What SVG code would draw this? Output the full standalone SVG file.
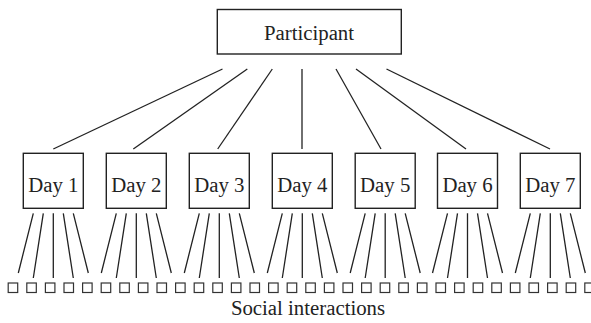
<svg xmlns="http://www.w3.org/2000/svg" width="591" height="323" viewBox="0 0 591 323">
<style>
.box{fill:#fff;stroke:#222;stroke-width:1.4}
.sq{fill:#fff;stroke:#333;stroke-width:1.2}
.ln{stroke:#222;stroke-width:1.3;fill:none}
text{font-family:"Liberation Serif","Times New Roman",serif;font-size:20.8px;fill:#222;text-anchor:middle}
</style>
<rect width="591" height="323" fill="#fff"/>
<g id="connectors">
<line class="ln" x1="222.5" y1="69" x2="53.3" y2="149"/>
<line class="ln" x1="247.3" y1="69" x2="133.3" y2="149"/>
<line class="ln" x1="272.3" y1="69" x2="217.7" y2="149"/>
<line class="ln" x1="302" y1="69" x2="302" y2="149"/>
<line class="ln" x1="336" y1="69" x2="381" y2="149"/>
<line class="ln" x1="356" y1="69" x2="466" y2="149"/>
<line class="ln" x1="386.5" y1="69" x2="550" y2="149"/>
<g id="fan1" transform="translate(53.3,0)">
<path class="ln" d="M-20,213.3L-35,273M-10,213.3L-20,278M0,213.3L0,278M10,213.3L20,278M20,213.3L35,273"/>
</g>
<g id="fan2" transform="translate(136.3,0)">
<path class="ln" d="M-20,213.3L-35,273M-10,213.3L-20,278M0,213.3L0,278M10,213.3L20,278M20,213.3L35,273"/>
</g>
<g id="fan3" transform="translate(219.3,0)">
<path class="ln" d="M-20,213.3L-35,273M-10,213.3L-20,278M0,213.3L0,278M10,213.3L20,278M20,213.3L35,273"/>
</g>
<g id="fan4" transform="translate(302.3,0)">
<path class="ln" d="M-20,213.3L-35,273M-10,213.3L-20,278M0,213.3L0,278M10,213.3L20,278M20,213.3L35,273"/>
</g>
<g id="fan5" transform="translate(385.2,0)">
<path class="ln" d="M-20,213.3L-35,273M-10,213.3L-20,278M0,213.3L0,278M10,213.3L20,278M20,213.3L35,273"/>
</g>
<g id="fan6" transform="translate(467.5,0)">
<path class="ln" d="M-20,213.3L-35,273M-10,213.3L-20,278M0,213.3L0,278M10,213.3L20,278M20,213.3L35,273"/>
</g>
<g id="fan7" transform="translate(550.3,0)">
<path class="ln" d="M-20,213.3L-35,273M-10,213.3L-20,278M0,213.3L0,278M10,213.3L20,278M20,213.3L35,273"/>
</g>
</g>
<g id="participant">
<rect class="box" x="217.3" y="9.5" width="184" height="44.5"/>
<text x="309" y="40">Participant</text>
</g>
<g id="day1"><rect class="box" x="23.3" y="153.3" width="60" height="55"/><text x="53.3" y="191.5">Day 1</text></g>
<g id="day2"><rect class="box" x="106.3" y="153.3" width="60" height="55"/><text x="136.3" y="191.5">Day 2</text></g>
<g id="day3"><rect class="box" x="189.3" y="153.3" width="60" height="55"/><text x="219.3" y="191.5">Day 3</text></g>
<g id="day4"><rect class="box" x="272.3" y="153.3" width="60" height="55"/><text x="302.3" y="191.5">Day 4</text></g>
<g id="day5"><rect class="box" x="355.2" y="153.3" width="60" height="55"/><text x="385.2" y="191.5">Day 5</text></g>
<g id="day6"><rect class="box" x="437.5" y="153.3" width="60" height="55"/><text x="467.5" y="191.5">Day 6</text></g>
<g id="day7"><rect class="box" x="520.3" y="153.3" width="60" height="55"/><text x="550.3" y="191.5">Day 7</text></g>
<g id="interactions">
<rect class="sq" x="8.2" y="283" width="9.5" height="9.5"/>
<rect class="sq" x="26.8" y="283" width="9.5" height="9.5"/>
<rect class="sq" x="45.4" y="283" width="9.5" height="9.5"/>
<rect class="sq" x="64" y="283" width="9.5" height="9.5"/>
<rect class="sq" x="82.6" y="283" width="9.5" height="9.5"/>
<rect class="sq" x="101.2" y="283" width="9.5" height="9.5"/>
<rect class="sq" x="119.8" y="283" width="9.5" height="9.5"/>
<rect class="sq" x="138.4" y="283" width="9.5" height="9.5"/>
<rect class="sq" x="157" y="283" width="9.5" height="9.5"/>
<rect class="sq" x="175.6" y="283" width="9.5" height="9.5"/>
<rect class="sq" x="194.2" y="283" width="9.5" height="9.5"/>
<rect class="sq" x="212.8" y="283" width="9.5" height="9.5"/>
<rect class="sq" x="231.4" y="283" width="9.5" height="9.5"/>
<rect class="sq" x="250" y="283" width="9.5" height="9.5"/>
<rect class="sq" x="268.6" y="283" width="9.5" height="9.5"/>
<rect class="sq" x="287.2" y="283" width="9.5" height="9.5"/>
<rect class="sq" x="305.8" y="283" width="9.5" height="9.5"/>
<rect class="sq" x="324.4" y="283" width="9.5" height="9.5"/>
<rect class="sq" x="343" y="283" width="9.5" height="9.5"/>
<rect class="sq" x="361.6" y="283" width="9.5" height="9.5"/>
<rect class="sq" x="380.2" y="283" width="9.5" height="9.5"/>
<rect class="sq" x="398.8" y="283" width="9.5" height="9.5"/>
<rect class="sq" x="417.4" y="283" width="9.5" height="9.5"/>
<rect class="sq" x="436" y="283" width="9.5" height="9.5"/>
<rect class="sq" x="454.6" y="283" width="9.5" height="9.5"/>
<rect class="sq" x="473.2" y="283" width="9.5" height="9.5"/>
<rect class="sq" x="491.8" y="283" width="9.5" height="9.5"/>
<rect class="sq" x="510.4" y="283" width="9.5" height="9.5"/>
<rect class="sq" x="529" y="283" width="9.5" height="9.5"/>
<rect class="sq" x="547.6" y="283" width="9.5" height="9.5"/>
<rect class="sq" x="566.2" y="283" width="9.5" height="9.5"/>
<rect class="sq" x="584.8" y="283" width="9.5" height="9.5"/>
<text x="308" y="315">Social interactions</text>
</g>
</svg>
